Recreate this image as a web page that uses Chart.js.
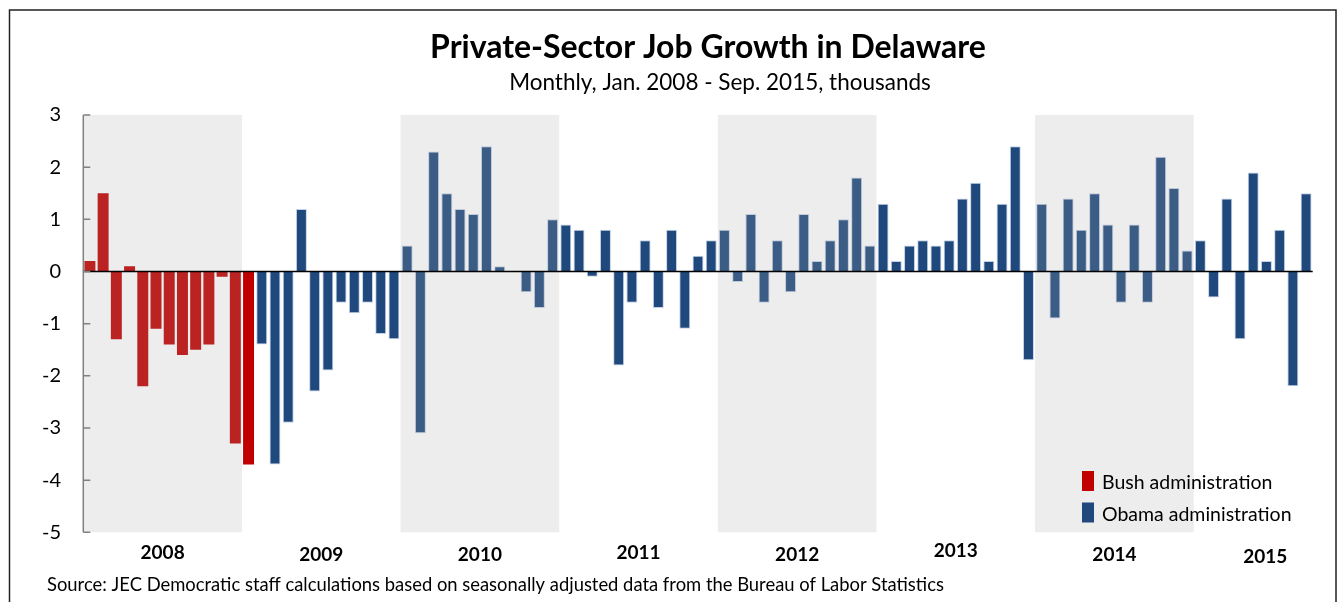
<!DOCTYPE html>
<html>
<head>
<meta charset="utf-8">
<title>Private-Sector Job Growth in Delaware</title>
<script src="https://cdn.jsdelivr.net/npm/chart.js@4.4.0/dist/chart.umd.min.js"></script>
<style>
  html, body { margin: 0; padding: 0; background: #fff; }
  #wrap { width: 1338px; height: 602px; }
</style>
</head>
<body>
<div id="wrap"><canvas id="myChart" width="1338" height="602"></canvas></div>
<script>
// monthly private-sector job change, thousands, Jan 2008 - Sep 2015
const years = ['2008', '2009', '2010', '2011', '2012', '2013', '2014', '2015'];
const shadedYears = ['2008', '2010', '2012', '2014'];
const monthNames = ['Jan', 'Feb', 'Mar', 'Apr', 'May', 'Jun', 'Jul', 'Aug', 'Sep', 'Oct', 'Nov', 'Dec'];
const values = [
  // 2008
  0.2, 1.5, -1.3, 0.1, -2.2, -1.1, -1.4, -1.6, -1.5, -1.4, -0.1, -3.3,
  // 2009
  -3.7, -1.4, -3.7, -2.9, 1.2, -2.3, -1.9, -0.6, -0.8, -0.6, -1.2, -1.3,
  // 2010
  0.5, -3.1, 2.3, 1.5, 1.2, 1.1, 2.4, 0.1, 0, -0.4, -0.7, 1.0,
  // 2011
  0.9, 0.8, -0.1, 0.8, -1.8, -0.6, 0.6, -0.7, 0.8, -1.1, 0.3, 0.6,
  // 2012
  0.8, -0.2, 1.1, -0.6, 0.6, -0.4, 1.1, 0.2, 0.6, 1.0, 1.8, 0.5,
  // 2013
  1.3, 0.2, 0.5, 0.6, 0.5, 0.6, 1.4, 1.7, 0.2, 1.3, 2.4, -1.7,
  // 2014
  1.3, -0.9, 1.4, 0.8, 1.5, 0.9, -0.6, 0.9, -0.6, 2.2, 1.6, 0.4,
  // 2015
  0.6, -0.5, 1.4, -1.3, 1.9, 0.2, 0.8, -2.2, 1.5
];
const bushMonths = 13; // Jan 2008 - Jan 2009
const yTicks = [3, 2, 1, 0, -1, -2, -3, -4, -5];
const seriesNames = ['Bush administration', 'Obama administration'];
const titleText = 'Private-Sector Job Growth in Delaware';
const subtitleText = 'Monthly, Jan. 2008 - Sep. 2015, thousands';
const sourceText = 'Source: JEC Democratic staff calculations based on seasonally adjusted data from the Bureau of Labor Statistics';

const red = '#C00000';
const blue = '#1F497D';
const font = 'Lato, "Open Sans", sans-serif';

let labels = [];
for (let i = 0; i < values.length; i++) {
  labels.push(monthNames[i % 12] + ' ' + years[Math.floor(i / 12)]);
}
const bush = values.map((v, i) => i < bushMonths ? v : null);
const obama = values.map((v, i) => i >= bushMonths ? v : null);

const decor = {
  id: 'decor',
  afterDatasetsDraw(chart) {
    const ctx = chart.ctx;
    const x = chart.scales.x;
    const y = chart.scales.y;
    const area = chart.chartArea;
    const w = (x.right - x.left) / values.length;

    ctx.save();
    // grey bands over the even years
    ctx.fillStyle = 'rgba(167,167,167,0.205)';
    shadedYears.forEach((yr) => {
      const k = years.indexOf(yr);
      const x0 = x.left + k * 12 * w;
      ctx.fillRect(x0, area.top, 12 * w, area.bottom - area.top);
    });

    // zero line
    ctx.strokeStyle = '#000';
    ctx.lineWidth = 1.5;
    ctx.beginPath();
    ctx.moveTo(x.left, y.getPixelForValue(0));
    ctx.lineTo(x.right, y.getPixelForValue(0));
    ctx.stroke();

    // y axis + inward tick marks
    ctx.strokeStyle = '#808080';
    ctx.lineWidth = 1.5;
    ctx.beginPath();
    ctx.moveTo(x.left, y.getPixelForValue(yTicks[0]));
    ctx.lineTo(x.left, y.getPixelForValue(yTicks[yTicks.length - 1]));
    yTicks.forEach((t) => {
      const py = y.getPixelForValue(t);
      ctx.moveTo(x.left, py);
      ctx.lineTo(x.left + 7, py);
    });
    ctx.stroke();

    ctx.fillStyle = '#000';
    ctx.font = '20px ' + font;
    ctx.textAlign = 'right';
    ctx.textBaseline = 'middle';
    yTicks.forEach((t) => {
      ctx.fillText(String(t), 61, y.getPixelForValue(t));
    });

    // year labels under each year
    const yearY = [553, 555, 555, 553, 555, 551, 555, 557];
    ctx.font = 'bold 19px ' + font;
    ctx.textAlign = 'center';
    years.forEach((yr, k) => {
      const first = k * 12;
      const last = Math.min(first + 11, values.length - 1);
      const cx = (x.getPixelForValue(first) + x.getPixelForValue(last)) / 2;
      ctx.fillText(yr, k === years.length - 1 ? cx + 12 : cx, yearY[k]);
    });

    // legend
    ctx.font = '19.5px ' + font;
    ctx.textAlign = 'left';
    [red, blue].forEach((c, i) => {
      const top = 471 + i * 31.5;
      ctx.fillStyle = c;
      ctx.fillRect(1082, top, 12, 20);
      ctx.fillStyle = '#000';
      ctx.fillText(seriesNames[i], 1102, top + 12);
    });

    // titles and source
    ctx.textAlign = 'center';
    ctx.font = 'bold 32px ' + font;
    ctx.fillText(titleText, 708, 48);
    ctx.font = '22.5px ' + font;
    ctx.fillText(subtitleText, 720, 83);
    ctx.textAlign = 'left';
    ctx.font = '18.4px ' + font;
    ctx.fillText(sourceText, 47, 585);

    // frame
    ctx.strokeStyle = '#222';
    ctx.lineWidth = 1.5;
    ctx.strokeRect(9.5, 10, 1326.5, 620);
    ctx.restore();
  }
};

const myChart = new Chart(document.querySelector('#myChart'), {
  type: 'bar',
  data: {
    labels: labels,
    datasets: [{
      label: seriesNames[0],
      data: bush,
      backgroundColor: red,
      borderWidth: 0,
      grouped: false,
      categoryPercentage: 1,
      barPercentage: 0.83
    }, {
      label: seriesNames[1],
      data: obama,
      backgroundColor: blue,
      borderColor: 'rgba(190,205,228,0.9)',
      borderWidth: 1,
      grouped: false,
      categoryPercentage: 1,
      barPercentage: 0.83
    }]
  },
  options: {
    responsive: false,
    animation: false,
    layout: {
      padding: { left: 83.3, right: 25.3, top: 115, bottom: 69.7 }
    },
    plugins: {
      legend: { display: false },
      title: { display: false },
      tooltip: { enabled: false }
    },
    scales: {
      x: { display: false, offset: true },
      y: { display: false, min: -5, max: 3 }
    }
  },
  plugins: [decor]
});
</script>
</body>
</html>
